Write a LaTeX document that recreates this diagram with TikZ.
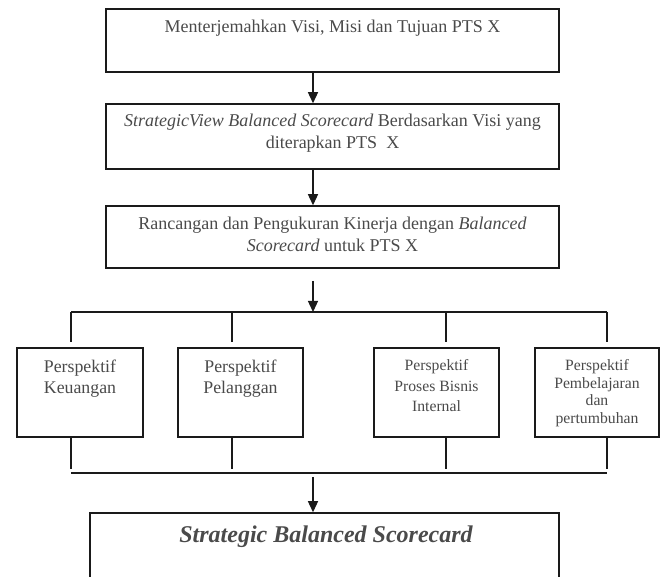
\documentclass[tikz,border=0pt]{standalone}
\usepackage{fontspec}
\setmainfont{Liberation Serif}
\usetikzlibrary{arrows.meta}
\definecolor{ink}{HTML}{4A4A4A}
\definecolor{rule}{HTML}{1A1A1A}
\begin{document}
\begin{tikzpicture}[x=1pt,y=-1pt,
  boxframe/.style={draw=rule, line width=1.5pt, inner sep=0pt, rectangle},
  txt/.style={text=ink, inner sep=0pt, align=center, anchor=base},
  bigtxt/.style={txt, font=\fontsize{18}{22}\selectfont},
  midtxt/.style={txt, font=\fontsize{17.8}{20.5}\selectfont},
  smalltxt/.style={txt, font=\fontsize{15.7}{20.5}\selectfont},
  tighttxt/.style={txt, font=\fontsize{15.7}{17.5}\selectfont},
  wire/.style={draw=rule, line width=1.3pt},
  arr/.style={wire, -{Triangle[length=11pt,width=10pt]}}]
\useasboundingbox (0,0) rectangle (665,577);
\clip (0,0) rectangle (665,577);

% upper chain of boxes (text nodes are placed by the baseline of their last line)
\node[boxframe, minimum width=453pt, minimum height=63pt] (b1) at (332.5,40.5) {};
\node[boxframe, minimum width=453pt, minimum height=65pt] (b2) at (332.5,136.5) {};
\node[boxframe, minimum width=453pt, minimum height=62pt] (b3) at (332.5,237) {};

\node[bigtxt] (t1) at (332.5,33) {Menterjemahkan Visi, Misi dan Tujuan PTS X};
\node[bigtxt] (t2) at (332.5,149) {\textit{StrategicView Balanced Scorecard} Berdasarkan Visi yang\\diterapkan PTS~~X};
\node[bigtxt] (t3) at (332.5,252) {Rancangan dan Pengukuran Kinerja dengan \textit{Balanced}\\\textit{Scorecard} untuk PTS X};

% four perspectives
\node[boxframe, minimum width=126pt, minimum height=89pt] (pA) at (80,392.5) {};
\node[boxframe, minimum width=125pt, minimum height=89pt] (pB) at (240.5,392.5) {};
\node[boxframe, minimum width=125pt, minimum height=89pt] (pC) at (436.5,392.5) {};
\node[boxframe, minimum width=124pt, minimum height=89pt] (pD) at (597,392.5) {};

\node[midtxt] (tA) at (80,393.5) {Perspektif\\Keuangan};
\node[midtxt] (tB) at (240.5,393.5) {Perspektif\\Pelanggan};
\node[smalltxt] (tC) at (436.5,412) {Perspektif\\Proses Bisnis\\Internal};
\node[tighttxt] (tD) at (597,423.5) {Perspektif\\Pembelajaran\\dan\\pertumbuhan};

% final box
\node[boxframe, minimum width=469pt, minimum height=87pt] (b5) at (324.5,556.5) {};
\node[txt, font=\fontsize{24}{28}\selectfont\bfseries\itshape] (t5) at (326,543) {Strategic Balanced Scorecard};

% connector positions
\coordinate (ax) at (313,0);
\coordinate (busT) at (313,312);
\coordinate (busB) at (313,473);
\coordinate (a3) at (313,281);
\coordinate (a4) at (313,477);
\coordinate (dA) at (71,0);
\coordinate (dB) at (232,0);
\coordinate (dC) at (446,0);
\coordinate (dD) at (607,0);

% arrows between the upper boxes
\draw[arr] (b1.south -| ax) -- (b2.north -| ax);
\draw[arr] (b2.south -| ax) -- (b3.north -| ax);
\draw[arr] (a3) -- (busT);

% distribution bus to the perspectives
\draw[wire] (dA |- busT) -- (dD |- busT);
\foreach \d/\b in {dA/pA, dB/pB, dC/pC, dD/pD}{
  \draw[wire] (\d |- busT) -- ([yshift=5pt]\d |- \b.north);
  \draw[wire] (\d |- \b.south) -- ([yshift=4pt]\d |- busB);
}

% collecting bus into the final box
\draw[wire] (dA |- busB) -- (dD |- busB);
\draw[arr] (a4) -- (b5.north -| ax);
\end{tikzpicture}
\end{document}
